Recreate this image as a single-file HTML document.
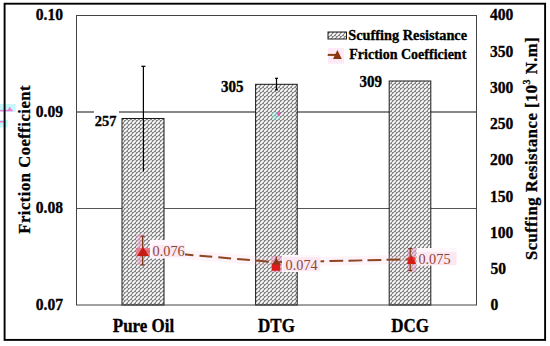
<!DOCTYPE html>
<html><head><meta charset="utf-8">
<style>
html,body{margin:0;padding:0;background:#fff;width:550px;height:346px;overflow:hidden}
svg{display:block}
text{font-family:"Liberation Serif",serif}
.b{font-weight:bold;stroke:#000;stroke-width:0.3px}
</style></head><body>
<svg width="550" height="346" viewBox="0 0 550 346">
<defs>
<pattern id="h" patternUnits="userSpaceOnUse" width="4" height="4" x="0" y="0">
<rect width="4" height="4" fill="#868686"/>
<path d="M0.4 3.6 L3.1 0.9" stroke="#fff" stroke-width="1.7" stroke-linecap="round"/>
</pattern>
</defs>
<rect x="0" y="0" width="550" height="346" fill="#fff"/>
<!-- left edge artifact -->
<rect x="0" y="104" width="15.7" height="7.7" fill="#c4f8fb"/>
<rect x="0" y="120" width="7.8" height="7.4" fill="#c4f8fb"/>
<line x1="0" y1="110.6" x2="12.7" y2="110.6" stroke="#f07ad6" stroke-width="1.4"/>
<path d="M7.4 110.6 L9.8 106.8 L12.2 110.6 Z" fill="#f07ad6"/>
<line x1="0" y1="121.7" x2="5.4" y2="121.7" stroke="#f07ad6" stroke-width="1.6"/>
<!-- outer border -->
<rect x="4.6" y="3.7" width="540.5" height="336.2" fill="none" stroke="#000" stroke-width="1.9"/>

<!-- grid lines -->
<line x1="76" y1="112" x2="476" y2="112" stroke="#111" stroke-width="1.2"/>
<line x1="76" y1="208.5" x2="476" y2="208.5" stroke="#555" stroke-width="1"/>

<!-- bars -->
<rect x="122" y="118.5" width="42" height="186.5" fill="url(#h)" stroke="#1a1a1a" stroke-width="1"/>
<rect x="255.6" y="84.3" width="41.6" height="220.7" fill="url(#h)" stroke="#1a1a1a" stroke-width="1"/>
<rect x="389.2" y="81" width="41.6" height="224" fill="url(#h)" stroke="#1a1a1a" stroke-width="1"/>

<rect x="271.8" y="112.1" width="8.1" height="7.5" fill="#7ff5dc" opacity="0.35"/>
<ellipse cx="278.7" cy="114" rx="1.6" ry="1.9" fill="#f050c0"/>
<!-- bar error bars -->
<g stroke="#000" stroke-width="1.2">
<line x1="143.4" y1="66" x2="143.4" y2="171.3"/>
<line x1="141.3" y1="66.3" x2="145.5" y2="66.3"/>
<line x1="276.5" y1="78.3" x2="276.5" y2="89.8"/>
<line x1="275" y1="78.3" x2="278" y2="78.3"/>
<line x1="275" y1="89.8" x2="278" y2="89.8"/>
</g>

<!-- plot border -->
<rect x="76.5" y="15.5" width="400" height="289.5" fill="none" stroke="#444" stroke-width="1"/>

<!-- bar labels -->
<rect x="94" y="107" width="25" height="21" fill="#fff"/>
<text transform="translate(116.5,125.8) scale(1,1.07)" class="b" font-size="14.5" text-anchor="end">257</text>
<text transform="translate(243.5,91.8) scale(1,1.07)" class="b" font-size="15" text-anchor="end">305</text>
<text transform="translate(382,87) scale(1,1.07)" class="b" font-size="15" text-anchor="end">309</text>

<!-- friction series -->
<!-- pink band along line -->
<polyline points="143,250.8 276.3,262.3 410.3,259.3" fill="none" stroke="#fbc8e2" stroke-width="9" opacity="0.22"/>
<!-- pink strips around markers -->
<g fill="#f0a0cc" opacity="0.55">
<rect x="136.6" y="234.2" width="7.7" height="30.7"/>
<rect x="271" y="256" width="11" height="16"/>
<rect x="408" y="248" width="8.2" height="23.7"/>
</g>
<!-- friction line -->
<line x1="143" y1="250.8" x2="276.3" y2="262.3" stroke="#8c4620" stroke-width="2" stroke-dasharray="12.8,6.1"/>
<line x1="276.3" y1="262.3" x2="410.3" y2="259.3" stroke="#8c4620" stroke-width="2" stroke-dasharray="13.8,5.25" stroke-dashoffset="4"/>
<!-- friction error bars -->
<g stroke="#7a3a10" stroke-width="1.2">
<line x1="142.6" y1="236.2" x2="142.6" y2="265"/>
<line x1="140.6" y1="236.2" x2="144.6" y2="236.2"/>
<line x1="140.6" y1="265" x2="144.6" y2="265"/>
<line x1="276.3" y1="256.5" x2="276.3" y2="270"/>
<line x1="410.2" y1="248.5" x2="410.2" y2="270.5"/>
<line x1="408.2" y1="248.5" x2="412.2" y2="248.5"/>
<line x1="408.2" y1="270.5" x2="412.2" y2="270.5"/>
</g>
<!-- red blocks -->
<rect x="136.2" y="248" width="14.6" height="7.8" fill="#ec6a80" opacity="0.8"/>
<rect x="271.8" y="263.5" width="8.4" height="7.3" fill="#dd1c1c"/>
<rect x="407.7" y="257" width="7.5" height="6.8" fill="#e2303a" opacity="0.8"/>
<!-- markers -->
<path d="M137 256 L143 246.8 L149 256 Z" fill="#c41c10"/>
<path d="M272 264.5 L276.3 258 L280.6 264.5 Z" fill="#8a3a1a"/>
<path d="M406.8 264 L411.4 255 L416 264 Z" fill="#d41c10"/>
<!-- label boxes -->
<g fill="#fef7fb">
<rect x="150" y="239.8" width="35" height="18.7"/>
<rect x="282" y="255" width="38.5" height="17"/>
<rect x="416.5" y="248" width="40" height="17.5"/>
</g>
<g fill="#fce8f3">
<rect x="152" y="245" width="33" height="12"/>
<rect x="283" y="257" width="37" height="14"/>
<rect x="417" y="252" width="39.5" height="13"/>
</g>
<!-- friction labels -->
<g fill="#8e4634" font-size="14.3">
<text x="152.6" y="255.6">0.076</text>
<text x="285.6" y="269.8">0.074</text>
<text x="418.4" y="263.9">0.075</text>
</g>

<!-- left axis labels -->
<g class="b" font-size="15.6" text-anchor="end">
<text transform="translate(63,20.3) scale(1,1.07)" class="b">0.10</text>
<text transform="translate(63,117) scale(1,1.07)" class="b">0.09</text>
<text transform="translate(63,213.3) scale(1,1.07)" class="b">0.08</text>
<text transform="translate(63,310) scale(1,1.07)" class="b">0.07</text>
</g>
<!-- right axis labels -->
<g font-size="15.6" text-anchor="start">
<text transform="translate(490,20.4) scale(1,1.07)" class="b">400</text>
<text transform="translate(490,56.6) scale(1,1.07)" class="b">350</text>
<text transform="translate(490,92.9) scale(1,1.07)" class="b">300</text>
<text transform="translate(490,129.1) scale(1,1.07)" class="b">250</text>
<text transform="translate(490,165.4) scale(1,1.07)" class="b">200</text>
<text transform="translate(490,201.6) scale(1,1.07)" class="b">150</text>
<text transform="translate(490,237.9) scale(1,1.07)" class="b">100</text>
<text transform="translate(490.5,274.1) scale(1,1.07)" class="b">50</text>
<text transform="translate(490.5,310.4) scale(1,1.07)" class="b">0</text>
</g>

<!-- x labels -->
<g font-size="17" text-anchor="middle">
<text transform="translate(143.5,331.6) scale(1,1.09)" class="b">Pure Oil</text>
<text transform="translate(276.5,331.6) scale(1,1.09)" class="b">DTG</text>
<text transform="translate(410,331.6) scale(1,1.09)" class="b">DCG</text>
</g>

<!-- axis titles -->
<text transform="translate(29.7,159.3) rotate(-90)" text-anchor="middle" font-size="16.6" letter-spacing="0.5" class="b">Friction Coefficient</text>
<text transform="translate(537.3,260) rotate(-90)" text-anchor="start" font-size="16.6" letter-spacing="0.5" class="b">Scuffing Resistance [10<tspan font-size="10" dy="-7.5">3</tspan><tspan dy="7.5"> N.m]</tspan></text>

<!-- legend -->
<rect x="328" y="32" width="18.5" height="7" fill="url(#h)" stroke="#1a1a1a" stroke-width="1"/>
<rect x="328" y="48" width="16" height="15.7" fill="#fdeaf6"/>
<line x1="327.7" y1="54.9" x2="337.5" y2="54.9" stroke="#8a3c14" stroke-width="2"/>
<path d="M333 59 L337.4 50 L341.8 59 Z" fill="#8a3412"/>
<text x="348.3" y="39.6" font-size="14.3" class="b">Scuffing Resistance</text>
<text x="349.3" y="59.4" font-size="14.0" class="b">Friction Coefficient</text>

</svg>
</body></html>
